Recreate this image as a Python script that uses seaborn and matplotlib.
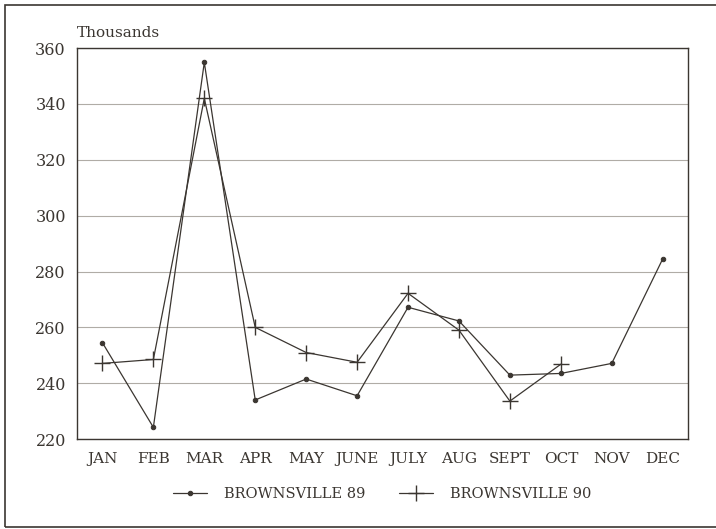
import numpy as np
import pandas as pd
import matplotlib
matplotlib.use('Agg')
import matplotlib.pyplot as plt
import seaborn as sns
from matplotlib.patches import Rectangle

# data (thousands)
months = ['JAN', 'FEB', 'MAR', 'APR', 'MAY', 'JUNE', 'JULY', 'AUG', 'SEPT', 'OCT', 'NOV', 'DEC']
brownsville_89 = [254.5, 224.2, 354.9, 234.0, 241.5, 235.5, 267.2, 262.3, 242.9, 243.5, 247.1, 284.5]
brownsville_90 = [247.1, 248.5, 342.0, 260.0, 251.0, 247.5, 272.2, 259.0, 233.6, 246.8, np.nan, np.nan]
y_ticks = [220, 240, 260, 280, 300, 320, 340, 360]

sns.set_theme(style='white')
plt.rcParams['font.family'] = ['DejaVu Serif']

ink = '#3b3631'

df89 = pd.DataFrame({'pos': range(len(months)), 'value': brownsville_89})
df90 = pd.DataFrame({'pos': range(len(months)), 'value': brownsville_90}).dropna()

fig = plt.figure(figsize=(7.16, 5.29), dpi=100)
ax = fig.add_axes([0.1075, 0.170, 0.8536, 0.739])

# outer frame round the whole picture (right side runs off the page)
fig.patches.append(Rectangle((5 / 716, 2 / 529), 730 / 716, 522 / 529, transform=fig.transFigure,
                             fill=False, edgecolor=ink, linewidth=1.2))

sns.lineplot(data=df89, x='pos', y='value', ax=ax, color=ink, linewidth=0.9,
             marker='o', markersize=3.2, markeredgecolor=ink, label='BROWNSVILLE 89')
sns.lineplot(data=df90, x='pos', y='value', ax=ax, color=ink, linewidth=0.9,
             marker='+', markersize=12, markeredgewidth=1.0, markeredgecolor=ink,
             label='BROWNSVILLE 90')

ax.set_xlim(-0.5, 11.5)
ax.set_ylim(220, 360)
ax.set_xticks(range(len(months)))
ax.set_xticklabels(months)
ax.set_yticks(y_ticks)
ax.set_xlabel('')
ax.set_ylabel('')

ax.grid(axis='y', color='#b0aca6', linewidth=0.8)
ax.grid(axis='x', visible=False)
ax.set_axisbelow(True)
for s in ax.spines.values():
    s.set_color(ink)
    s.set_linewidth(1.0)

ax.tick_params(axis='x', direction='in', length=5, width=0.8, color=ink,
               labelsize=11, labelcolor=ink, pad=9)
ax.tick_params(axis='y', length=0, labelsize=11.5, labelcolor=ink, pad=8)

ax.text(0.0, 1.02, 'Thousands', transform=ax.transAxes, fontsize=11, color=ink,
        ha='left', va='bottom')

leg = ax.legend(loc='upper center', bbox_to_anchor=(0.5, -0.09), ncol=2, frameon=False,
                fontsize=10.5, handlelength=2.3, columnspacing=2.3, handletextpad=1.2)
for t in leg.get_texts():
    t.set_color(ink)

fig.savefig('out.png', dpi=100, facecolor='white')
